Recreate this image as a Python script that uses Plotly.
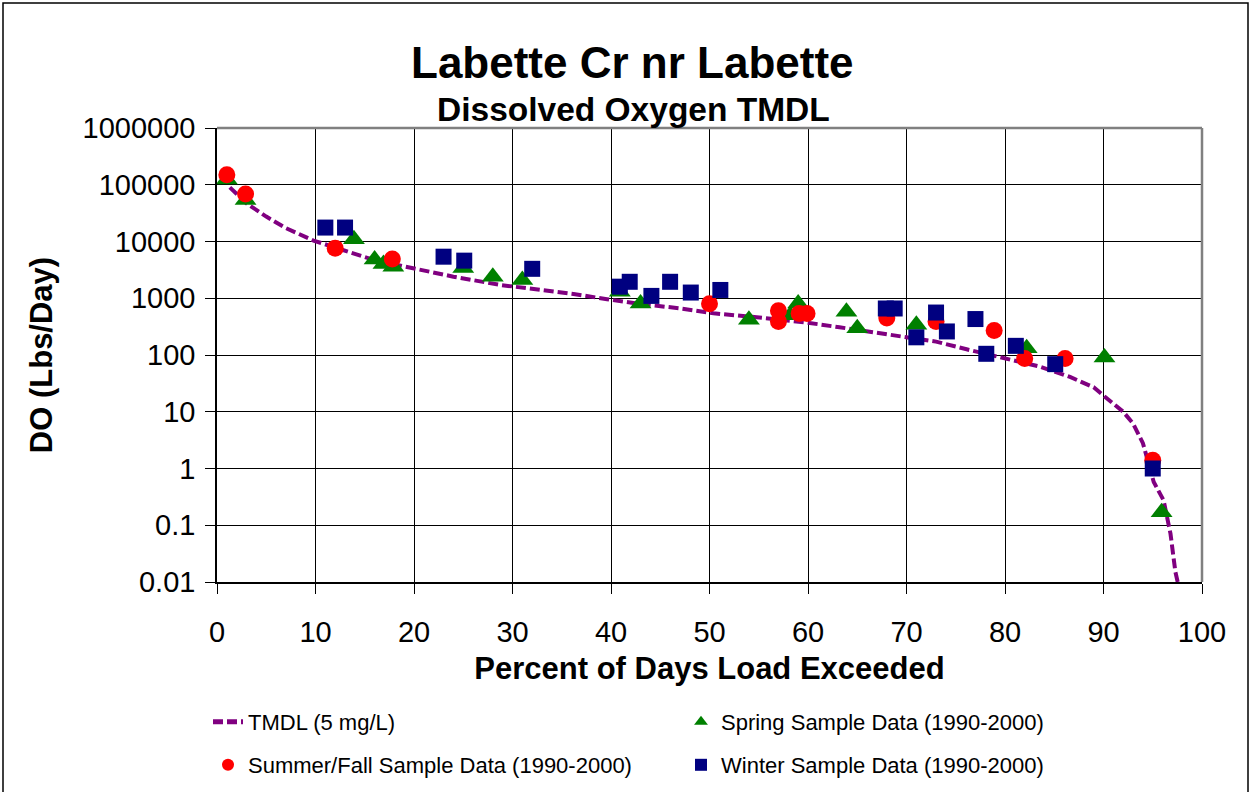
import plotly.graph_objects as go

# ---------------- data ----------------
tmdl_x = [1.3, 3.0, 5.0, 7.0, 9.8, 13.2, 15.9, 19.9, 24.0, 28.7, 33.0, 36.2, 39.6,
          43.0, 47.0, 50.4, 54.8, 59.9, 63.2, 67.3, 69.5, 73.0, 76.1, 79.5, 83.6,
          86.6, 89.0, 90.2, 92.0, 93.0, 94.0, 95.1, 96.1, 96.8, 97.1, 97.3, 97.7]
tmdl_y = [90000, 47000, 27500, 17200, 10400, 6600, 4740, 3380, 2400, 1720, 1400, 1190, 960,
          790, 665, 543, 462, 372, 308, 241, 215, 172, 126, 91, 62,
          41, 27, 18, 10, 6.2, 2.8, 0.58, 0.275, 0.071, 0.03, 0.015, 0.0074]

spring_x = [1.0, 2.9, 13.9, 16.0, 16.9, 17.9, 25.0, 28.0, 31.0, 40.9, 43.0, 54.0,
            58.2, 59.0, 63.9, 65.0, 71.0, 82.2, 90.1, 95.9]
spring_y = [124000, 54000, 11000, 4800, 4000, 3600, 3400, 2400, 2100, 1300, 810, 420,
            500, 810, 580, 295, 340, 132, 90, 0.17]

summer_x = [1.0, 2.9, 12.0, 17.8, 50.0, 57.0, 57.0, 59.1, 59.9, 68.0, 73.0, 78.9,
            82.0, 86.1, 95.0]
summer_y = [150000, 69000, 7600, 4900, 800, 600, 390, 540, 540, 447, 390, 270,
            87, 87, 1.4]

winter_x = [11.0, 13.0, 23.0, 25.1, 32.0, 40.9, 41.9, 44.1, 46.0, 48.1, 51.1,
            67.9, 68.8, 71.0, 73.0, 74.1, 77.0, 78.1, 81.1, 85.1, 95.0]
winter_y = [17600, 17600, 5400, 4600, 3300, 1600, 1950, 1100, 1950, 1260, 1400,
            660, 660, 205, 560, 260, 430, 105, 145, 69, 1.0]

y_tickvals = [0.01, 0.1, 1, 10, 100, 1000, 10000, 100000, 1000000]
y_ticktext = ["0.01", "0.1", "1", "10", "100", "1000", "10000", "100000", "1000000"]
x_tickvals = [0, 10, 20, 30, 40, 50, 60, 70, 80, 90, 100]

FONT = "Arial, 'Liberation Sans', sans-serif"

fig = go.Figure()
fig.add_trace(go.Scatter(
    x=tmdl_x, y=tmdl_y, mode="lines", name="TMDL (5 mg/L)",
    line=dict(color="#800080", width=4, dash="10px,4px"), legend="legend"))
fig.add_trace(go.Scatter(
    x=spring_x, y=spring_y, mode="markers", name="Spring Sample Data (1990-2000)",
    marker=dict(symbol="triangle-up", size=19, color="#008000"), legend="legend"))
fig.add_trace(go.Scatter(
    x=summer_x, y=summer_y, mode="markers", name="Summer/Fall Sample Data (1990-2000)",
    marker=dict(symbol="circle", size=17, color="#FF0000"), legend="legend2"))
fig.add_trace(go.Scatter(
    x=winter_x, y=winter_y, mode="markers", name="Winter Sample Data (1990-2000)",
    marker=dict(symbol="square", size=16, color="#000080"), legend="legend2"))

W, H = 1252, 792
L, R, T, B = 217, 50, 128, 210
pw, ph = W - L - R, H - T - B

def px2paper_x(px):
    return (px - L) / pw

def px2paper_y(py):
    return (H - B - py) / ph

legend_common = dict(
    orientation="h", xanchor="left", yanchor="middle",
    font=dict(family=FONT, size=22, color="#000"),
    entrywidth=428, entrywidthmode="pixels",
    bgcolor="rgba(0,0,0,0)", itemsizing="constant")

fig.update_layout(
    width=W, height=H,
    margin=dict(l=L, r=R, t=T, b=B, autoexpand=False),
    paper_bgcolor="white", plot_bgcolor="white",
    font=dict(family=FONT, color="#000"),
    title=dict(text="<b>Labette Cr nr Labette</b>", x=0.505, xanchor="center",
               y=1 - 63 / H, yanchor="middle", yref="container",
               font=dict(family=FONT, size=44, color="#000")),
    showlegend=True,
    legend=dict(x=px2paper_x(208), y=px2paper_y(722), **legend_common),
    legend2=dict(x=px2paper_x(208), y=px2paper_y(765), **legend_common),
    xaxis=dict(
        range=[0, 100], tickvals=x_tickvals, ticks="outside", ticklen=10,
        tickcolor="#000", showline=True, linecolor="#000", linewidth=1.5,
        showgrid=True, gridcolor="#000", gridwidth=1, zeroline=False,
        tickfont=dict(family=FONT, size=29, color="#000"), ticklabelstandoff=13,
        title=dict(text="<b>Percent of Days Load Exceeded</b>", standoff=11,
                   font=dict(family=FONT, size=31, color="#000"))),
    yaxis=dict(
        type="log", range=[-2, 6], tickvals=y_tickvals, ticktext=y_ticktext,
        ticks="outside", ticklen=10, tickcolor="#000", showline=True,
        linecolor="#000", linewidth=1.5, showgrid=True, gridcolor="#000",
        gridwidth=1, zeroline=False,
        tickfont=dict(family=FONT, size=29, color="#000"), ticklabelstandoff=4,
        title=dict(text="<b>DO (Lbs/Day)</b>", standoff=21,
                   font=dict(family=FONT, size=31, color="#000"))),
    annotations=[dict(
        text="<b>Dissolved Oxygen TMDL</b>", xref="paper", yref="paper",
        x=px2paper_x(633), y=px2paper_y(110), xanchor="center", yanchor="middle",
        showarrow=False, font=dict(family=FONT, size=33.5, color="#000"))],
    shapes=[
        # plot-area frame (top / right in gray)
        dict(type="line", xref="paper", yref="paper", x0=0, x1=1, y0=1, y1=1,
             line=dict(color="#808080", width=2.5), layer="above"),
        dict(type="line", xref="paper", yref="paper", x0=1, x1=1, y0=0, y1=1,
             line=dict(color="#808080", width=2.5), layer="above"),
        # outer chart border
        dict(type="rect", xref="paper", yref="paper",
             x0=px2paper_x(3), x1=px2paper_x(1248),
             y0=px2paper_y(800), y1=px2paper_y(3),
             line=dict(color="#000", width=1.5), layer="below"),
    ],
)

fig.write_html(
    "out.html",
    config={"displayModeBar": False},
    post_script="document.body.style.margin='0px';document.body.style.overflow='hidden';")
